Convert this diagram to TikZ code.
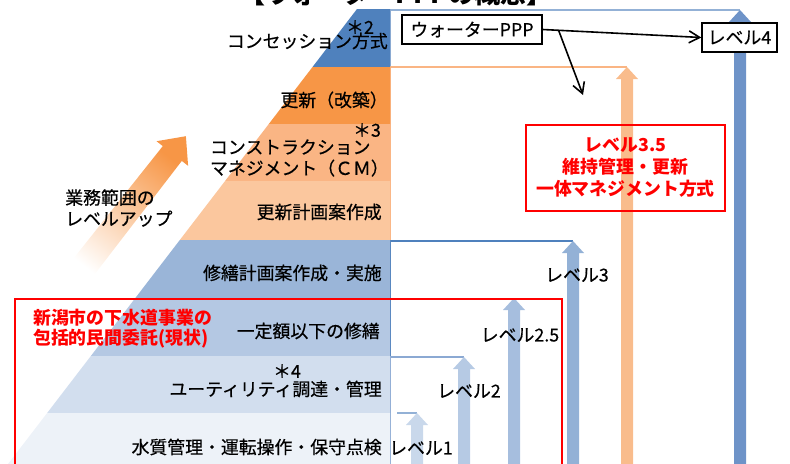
\documentclass[tikz,border=0pt]{standalone}
\usepackage{fontspec}
\setmainfont{Noto Sans CJK JP}
\newfontfamily\jpmid{Noto Sans CJK JP}[FakeBold=0.5]
\usetikzlibrary{calc,arrows.meta}

\definecolor{bandConc}{HTML}{4F81BD}
\definecolor{bandRenew}{HTML}{F79646}
\definecolor{bandCM}{HTML}{FAB584}
\definecolor{bandPlan}{HTML}{FBC79E}
\definecolor{bandRepair}{HTML}{9AB5D8}
\definecolor{bandMinor}{HTML}{B4C8E3}
\definecolor{bandUtil}{HTML}{D2DEEE}
\definecolor{bandWater}{HTML}{EDF2F8}
\definecolor{arrL1}{HTML}{C9D8EB}
\definecolor{arrL2}{HTML}{B6CAE4}
\definecolor{arrL25}{HTML}{A6BEDE}
\definecolor{arrL3}{HTML}{93B1D6}
\definecolor{arrL35}{HTML}{F9BC8C}
\definecolor{arrL4}{HTML}{6E93C8}

\tikzset{
  lbl/.style={font=\jpmid\fontsize{13.4}{15.8}\selectfont, inner sep=0pt},
  redtxt/.style={inner sep=0pt, text=red, font=\bfseries\fontsize{13.4}{15}\selectfont, align=left},
  box/.style={lbl, draw=black, line width=1.1pt, fill=white},
  conn/.style={line width=1.2pt, -{Straight Barb[length=8pt,width=9pt]}},
}

\begin{document}
\begin{tikzpicture}[x=0.75pt,y=-0.75pt]
  \useasboundingbox (0,0) rectangle (790,464);
  \node[font=\bfseries\fontsize{19.5}{22}\selectfont, anchor=base, inner sep=0pt] (title) at (396,3) {【ウォーターPPPの概念】};

  % level lines
  \draw[arrL3, line width=0.8pt] (390,470) -- (390,10) -- (740,10);
  \draw[bandCM, line width=0.8pt] (390,470) -- (390,67) -- (627,67);
  \draw[bandConc, line width=0.8pt] (390,470) -- (390,241) -- (573,241);
  \draw[arrL4!80, line width=0.8pt] (390,470) -- (390,357) -- (464,357);
  \draw[arrL3, line width=0.8pt] (397,413) -- (417,413);

  % pyramid
  \foreach \ya/\yb/\col in {9/67/bandConc,67/124/bandRenew,124/181/bandCM,181/240/bandPlan,240/298/bandRepair,298/356/bandMinor,356/413/bandUtil,413/480/bandWater}
    \fill[\col] ({357-0.767*(\ya-9)},\ya) -- (390,\ya) -- (390,\yb) -- ({357-0.767*(\yb-9)},\yb) -- cycle;

  \shade[bottom color=white, top color=bandRenew, shading angle=-38]
    (64.5,269.8) -- (162.8,146.1) -- (156.5,141.2) -- (185.9,136.2) -- (188.1,165.8) -- (181.8,160.9) -- (85.5,286.2) -- cycle;

  % level arrows
  \foreach \x/\yt/\col in {417/413/arrL1,464/357/arrL2,514/298/arrL25,573/241/arrL3,627/67/arrL35,740/10/arrL4}
    \fill[\col] (\x-6,470) -- (\x-6,\yt+12) -- (\x-11,\yt+12) -- (\x,\yt) -- (\x+11,\yt+12) -- (\x+6,\yt+12) -- (\x+6,470) -- cycle;

  \draw[red, line width=1.3pt] (15,480) -- (15,299) -- (562,299) -- (562,480);

  \node[lbl, anchor=east] (conc) at (388,41) {コンセッション方式};
  \node[lbl] (star2) at (360,27) {＊2};
  \node[lbl, anchor=east] (renew) at (388,100) {更新（改築）};
  \node[lbl] (star3) at (367,130) {＊3};
  \node[lbl, anchor=east, align=left] (cm) at (389,158) {コンストラクション\\マネジメント（ＣＭ）};
  \node[lbl, anchor=east] (plan) at (382,212) {更新計画案作成};
  \node[lbl, anchor=east] (repair) at (382,273) {修繕計画案作成・実施};
  \node[lbl, anchor=east] (minor) at (380,331) {一定額以下の修繕};
  \node[lbl] (star4) at (287,371) {＊4};
  \node[lbl, anchor=east] (util) at (382,389) {ユーティリティ調達・管理};
  \node[lbl, anchor=east] (water) at (382,447) {水質管理・運転操作・保守点検};

  \node[lbl, align=left, anchor=west] (levelup) at (65,208) {業務範囲の\\レベルアップ};
  \node[redtxt, anchor=west] (niigata) at (33,329) {新潟市の下水道事業の\\包括的民間委託(現状)};

  \node[lbl] (lv1) at (421,448) {レベル1};
  \node[lbl] (lv2) at (469,391) {レベル2};
  \node[lbl] (lv25) at (520,335) {レベル2.5};
  \node[lbl] (lv3) at (577,275) {レベル3};
  \node[redtxt, font=\bfseries\fontsize{13.4}{16.5}\selectfont, align=center, draw=red, line width=1.3pt,
        minimum width=149pt, minimum height=64.5pt] (lv35) at (625.5,168) {レベル3.5\\維持管理・更新\\一体マネジメント方式};

  \node[box, minimum width=105pt, minimum height=21.75pt] (ppp) at (472,29.5) {ウォーターPPP};
  \node[box, minimum width=56.25pt, minimum height=21.75pt] (lv4) at (739.5,37.5) {レベル4};
  \coordinate (split) at ($(ppp.east)!0.1!(lv4.west)$);
  \coordinate (down) at (583,95);
  \draw[conn] (ppp.east) -- (lv4.west);
  \draw[conn] (split) -- (down);
\end{tikzpicture}
\end{document}
